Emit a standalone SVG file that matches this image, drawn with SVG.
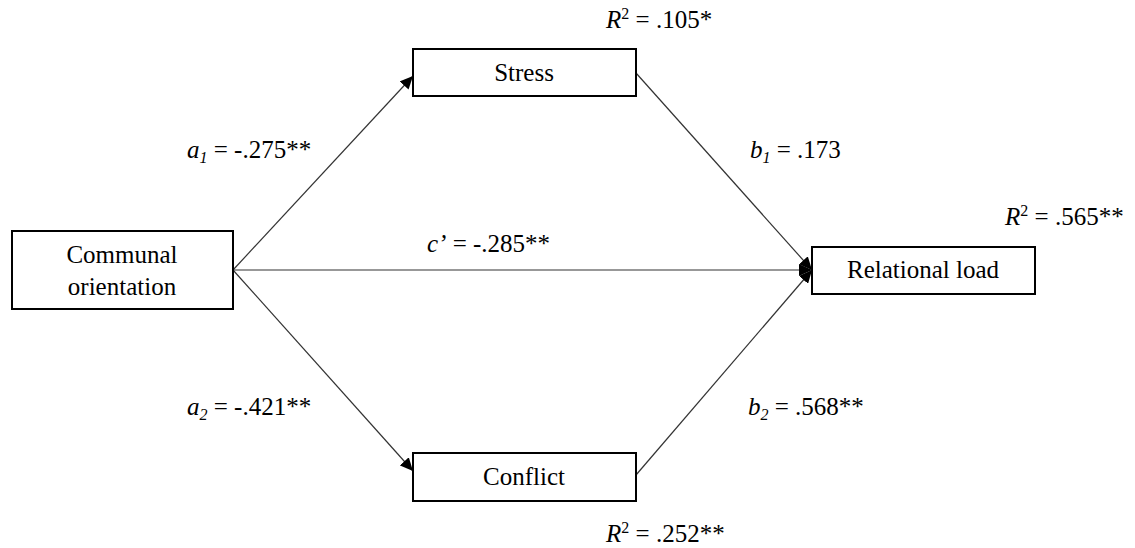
<svg xmlns="http://www.w3.org/2000/svg" width="1135" height="548" viewBox="0 0 1135 548">
<style>
.box{fill:#fff;stroke:#000;stroke-width:2}
.t{font-family:"Liberation Serif","Times New Roman",serif;font-size:25px;fill:#000}
.c{text-anchor:middle}
.ln{stroke:#333;stroke-width:1.2;fill:none}
</style>
<defs>
<marker id="ah" markerUnits="userSpaceOnUse" markerWidth="14" markerHeight="12" refX="13" refY="6" orient="auto">
<path d="M0,0 L13,6 L0,12 Z" fill="#000"/>
</marker>
</defs>
<rect width="1135" height="548" fill="#fff"/>
<g id="connectors">
<line class="ln" x1="233" y1="270" x2="413" y2="76" marker-end="url(#ah)"/>
<line class="ln" x1="233" y1="270" x2="413" y2="471" marker-end="url(#ah)"/>
<line class="ln" x1="233" y1="270" x2="812" y2="270" marker-end="url(#ah)"/>
<line class="ln" x1="636" y1="73" x2="812" y2="270" marker-end="url(#ah)"/>
<line class="ln" x1="636" y1="475" x2="812" y2="270" marker-end="url(#ah)"/>
</g>
<g id="communal">
<rect class="box" x="12" y="231" width="221" height="78"/>
<text class="t c" x="122" y="263">Communal</text>
<text class="t c" x="122" y="295">orientation</text>
</g>
<g id="stress">
<rect class="box" x="413" y="49" width="223" height="47"/>
<text class="t c" x="524" y="81">Stress</text>
</g>
<g id="conflict">
<rect class="box" x="413" y="453" width="223" height="48"/>
<text class="t c" x="524" y="485">Conflict</text>
</g>
<g id="relational">
<rect class="box" x="812" y="247" width="223" height="47"/>
<text class="t c" x="923" y="278">Relational load</text>
</g>
<g id="labels">
<text class="t" x="187" y="158"><tspan font-style="italic">a</tspan><tspan font-style="italic" font-size="16" dy="5">1</tspan><tspan dy="-5"> = -.275**</tspan></text>
<text class="t" x="750" y="158"><tspan font-style="italic">b</tspan><tspan font-style="italic" font-size="16" dy="5">1</tspan><tspan dy="-5"> = .173</tspan></text>
<text class="t" x="427" y="252"><tspan font-style="italic">c’</tspan> = -.285**</text>
<text class="t" x="187" y="415"><tspan font-style="italic">a</tspan><tspan font-style="italic" font-size="16" dy="5">2</tspan><tspan dy="-5"> = -.421**</tspan></text>
<text class="t" x="748" y="415"><tspan font-style="italic">b</tspan><tspan font-style="italic" font-size="16" dy="5">2</tspan><tspan dy="-5"> = .568**</tspan></text>
<text class="t" x="606" y="28"><tspan font-style="italic">R</tspan><tspan font-size="16" dy="-9">2</tspan><tspan dy="9"> = .105*</tspan></text>
<text class="t" x="1005" y="225"><tspan font-style="italic">R</tspan><tspan font-size="16" dy="-9">2</tspan><tspan dy="9"> = .565**</tspan></text>
<text class="t" x="606" y="542"><tspan font-style="italic">R</tspan><tspan font-size="16" dy="-9">2</tspan><tspan dy="9"> = .252**</tspan></text>
</g>
</svg>
